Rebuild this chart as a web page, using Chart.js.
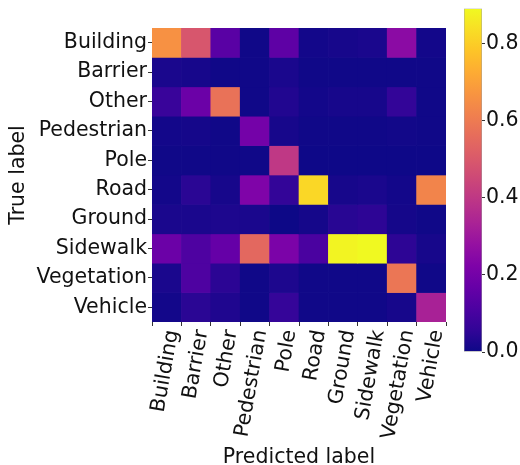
<!DOCTYPE html>
<html>
<head>
<meta charset="utf-8">
<script src="https://cdn.jsdelivr.net/npm/chart.js@4.4.1/dist/chart.umd.min.js"></script>
<style>
  html, body { margin: 0; padding: 0; background: #fff; overflow: hidden; }
  #wrap { position: relative; width: 520px; height: 465px; overflow: hidden; }
  #wrap canvas { position: absolute; left: 0; top: 0; }
</style>
</head>
<body>
<div id="wrap">
  <canvas id="matrix" width="520" height="470"></canvas>
  <canvas id="colorbar" width="520" height="465"></canvas>
</div>
<script>
// Class names (rows = true label, columns = predicted label)
const trueLabels = ['Building', 'Barrier', 'Other', 'Pedestrian', 'Pole', 'Road', 'Ground', 'Sidewalk', 'Vegetation', 'Vehicle'];
const predLabels = ['Building', 'Barrier', 'Other', 'Pedestrian', 'Pole', 'Road', 'Ground', 'Sidewalk', 'Vegetation', 'Vehicle'];

// Normalised confusion-matrix rows
const building   = [0.66, 0.49, 0.14, 0.005, 0.15, 0.01, 0.015, 0.02, 0.255, 0.01];
const barrier    = [0.02, 0.015, 0.005, 0.005, 0.02, 0.005, 0.005, 0.005, 0.005, 0.005];
const other      = [0.073, 0.178, 0.576, 0.005, 0.031, 0.01, 0.015, 0.015, 0.06, 0.005];
const pedestrian = [0.01, 0.012, 0.005, 0.20, 0.015, 0.005, 0.005, 0.005, 0.008, 0.005];
const pole       = [0.005, 0.005, 0.005, 0.005, 0.40, 0.002, 0.002, 0.002, 0.002, 0.002];
const road       = [0.01, 0.045, 0.015, 0.227, 0.06, 0.82, 0.015, 0.02, 0.01, 0.625];
const ground     = [0.02, 0.02, 0.025, 0.02, 0.0, 0.012, 0.042, 0.05, 0.012, 0.005];
const sidewalk   = [0.18, 0.115, 0.165, 0.545, 0.216, 0.108, 0.88, 0.89, 0.05, 0.015];
const vegetation = [0.02, 0.115, 0.047, 0.005, 0.025, 0.005, 0.005, 0.005, 0.585, 0.005];
const vehicle    = [0.01, 0.045, 0.028, 0.005, 0.065, 0.005, 0.005, 0.005, 0.015, 0.33];

// Colour-bar tick values
const colorbarTicks = [0.0, 0.2, 0.4, 0.6, 0.8];

const matrix = [building, barrier, other, pedestrian, pole, road, ground, sidewalk, vegetation, vehicle];
const vmin = 0;
const vmax = Math.max(...matrix.flat());

// Plasma colormap, sampled every 16th entry of the 256-step table
const plasmaStops = ['#0d0887', '#310597', '#4c02a1', '#6600a7', '#7e03a8', '#9511a1', '#aa2395', '#bc3587',
  '#cc4778', '#da5a6a', '#e66c5c', '#f0804e', '#f89540', '#fdac33', '#fdc527', '#f8df25', '#f0f921'];
const plasmaPos = plasmaStops.map((_, i) => Math.min(1, (i * 16) / 255));

function hexRgb(h) {
  return [parseInt(h.slice(1, 3), 16), parseInt(h.slice(3, 5), 16), parseInt(h.slice(5, 7), 16)];
}
function plasma(t) {
  t = Math.max(0, Math.min(1, t));
  let i = 0;
  while (i < plasmaPos.length - 2 && t > plasmaPos[i + 1]) i++;
  const f = (t - plasmaPos[i]) / (plasmaPos[i + 1] - plasmaPos[i]);
  const a = hexRgb(plasmaStops[i]), b = hexRgb(plasmaStops[i + 1]);
  const c = a.map((v, k) => Math.round(v + (b[k] - v) * f));
  return `rgb(${c[0]},${c[1]},${c[2]})`;
}

const FONT = { family: '"DejaVu Sans", sans-serif', size: 20.5 };
const TEXT = '#111';
const TICK = '#333';

// Heatmap: each true-label row is a dataset of floating bars spanning one row unit
const datasets = matrix.map((row, r) => ({
  label: trueLabels[r],
  data: predLabels.map(() => [r - 0.5, r + 0.5]),
  backgroundColor: row.map(v => plasma((v - vmin) / (vmax - vmin))),
  borderWidth: 0,
  grouped: false,
  barPercentage: 1,
  categoryPercentage: 1
}));

new Chart(document.getElementById('matrix'), {
  type: 'bar',
  data: { labels: predLabels, datasets },
  options: {
    responsive: false,
    animation: false,
    layout: { padding: { top: 28, right: 74, bottom: 0, left: 0 } },
    plugins: { legend: { display: false }, tooltip: { enabled: false } },
    scales: {
      x: {
        type: 'category',
        grid: { display: true, drawOnChartArea: false, drawTicks: true, tickLength: 4, color: TICK },
        border: { display: false },
        ticks: { autoSkip: false, minRotation: 80, maxRotation: 80, labelOffset: 6, padding: 2, color: TEXT, font: FONT },
        title: { display: true, text: 'Predicted label', color: TEXT, font: FONT, padding: 0 },
        afterFit: s => { s.height = 148; }
      },
      y: {
        type: 'linear',
        min: -0.5,
        max: 9.5,
        reverse: true,
        afterBuildTicks: s => { s.ticks = trueLabels.map((_, i) => ({ value: i })); },
        grid: { display: true, drawOnChartArea: false, drawTicks: true, tickLength: 4, color: TICK },
        border: { display: false },
        ticks: { autoSkip: false, padding: 1, color: TEXT, font: FONT, callback: v => trueLabels[v] },
        title: { display: true, text: 'True label', color: TEXT, font: FONT, padding: { top: 6, bottom: 0 } },
        afterFit: s => { s.width = 152; }
      }
    }
  }
});

// Colour bar: one floating bar from vmin to vmax filled with the colormap gradient
new Chart(document.getElementById('colorbar'), {
  type: 'bar',
  data: {
    labels: [''],
    datasets: [{
      data: [[vmin, vmax]],
      barPercentage: 1,
      categoryPercentage: 1,
      borderWidth: 0.8,
      borderColor: '#a0a0a0',
      borderSkipped: false,
      backgroundColor: ctx => {
        const chart = ctx.chart;
        if (!chart.chartArea) return plasmaStops[0];
        const y = chart.scales.y;
        const g = chart.ctx.createLinearGradient(0, y.getPixelForValue(vmin), 0, y.getPixelForValue(vmax));
        plasmaStops.forEach((c, i) => g.addColorStop(plasmaPos[i], c));
        return g;
      }
    }]
  },
  options: {
    responsive: false,
    animation: false,
    layout: { padding: { top: 8.5, right: 0, bottom: 113, left: 464 } },
    plugins: { legend: { display: false }, tooltip: { enabled: false } },
    scales: {
      x: { display: false },
      y: {
        position: 'right',
        min: vmin,
        max: vmax,
        afterBuildTicks: s => { s.ticks = colorbarTicks.map(v => ({ value: v })); },
        grid: { display: true, drawOnChartArea: false, drawTicks: true, tickLength: 3, color: TICK },
        border: { display: false },
        ticks: { padding: 1, color: TEXT, font: FONT, callback: v => Number(v).toFixed(1) },
        afterFit: s => { s.width = 38; s.paddingTop = 0; s.paddingBottom = 0; }
      }
    }
  }
});
</script>
</body>
</html>
